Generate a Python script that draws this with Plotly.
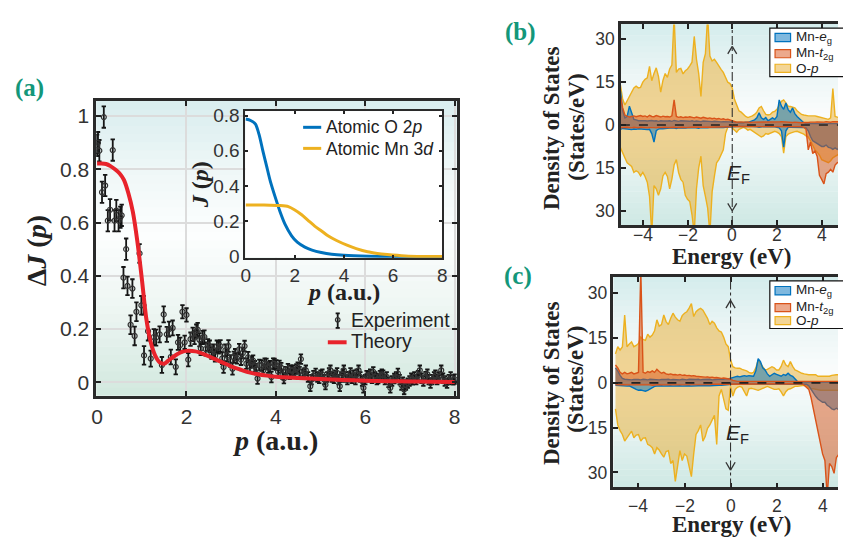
import plotly.graph_objects as go

# ---------------- Panel (a) data ----------------
exp_p = [0.00, 0.02, 0.05, 0.11, 0.15, 0.18, 0.24, 0.29, 0.35, 0.39, 0.43, 0.48, 0.52, 0.55, 0.59,
         0.65, 0.68, 0.75, 0.79, 0.84, 0.88, 0.95, 0.99, 1.04, 1.05, 1.14, 1.20, 1.27, 1.32, 1.40,
         1.45, 1.49, 1.56, 1.61, 1.65, 1.69, 1.76, 1.81, 1.86, 1.91, 1.96, 2.00, 2.04, 2.09, 2.14,
         2.18, 2.22, 2.25, 2.29, 2.32, 2.36, 2.40, 2.43,
         2.48, 2.52, 2.56, 2.60, 2.64, 2.68, 2.72, 2.76, 2.80, 2.83, 2.87, 2.91, 2.94, 2.98, 3.03,
         3.06, 3.09, 3.13, 3.18, 3.22, 3.26, 3.30, 3.34, 3.38, 3.42, 3.46, 3.49, 3.53, 3.56, 3.59,
         3.63, 3.68, 3.72, 3.75, 3.79, 3.83, 3.87, 3.90, 3.94, 3.97, 4.01, 4.05, 4.08, 4.12, 4.15,
         4.18, 4.22, 4.27, 4.31, 4.34, 4.38, 4.42, 4.46, 4.49, 4.53, 4.56, 4.60, 4.64, 4.67, 4.72,
         4.77, 4.80, 4.84, 4.89, 4.93, 4.97, 5.00, 5.04, 5.08, 5.11, 5.15, 5.19, 5.22, 5.26, 5.30,
         5.33, 5.37, 5.40, 5.43, 5.47, 5.50, 5.52, 5.56, 5.60, 5.63, 5.67, 5.70, 5.74, 5.78, 5.81,
         5.85, 5.89, 5.93, 5.96, 6.00, 6.03, 6.07, 6.11, 6.15, 6.18, 6.22, 6.26, 6.29, 6.33, 6.37,
         6.40, 6.44, 6.48, 6.52, 6.56, 6.60, 6.65, 6.69, 6.73, 6.77, 6.81, 6.84, 6.87, 6.91, 6.95,
         6.99, 7.03, 7.06, 7.10, 7.14, 7.18, 7.22, 7.26, 7.30, 7.35, 7.39, 7.42, 7.46, 7.50, 7.54,
         7.57, 7.61, 7.65, 7.70, 7.74, 7.78, 7.83, 7.87, 7.91, 7.97, 8.00]
exp_v = [0.890, 0.900, 0.870, 0.714, 0.996, 0.739, 0.607, 0.648, 0.872, 0.607, 0.645, 0.607, 0.620, 0.627, 0.393,
         0.500, 0.362, 0.216, 0.352, 0.174, 0.265, 0.484, 0.289, 0.289, 0.101, 0.192, 0.089, 0.170, 0.168, 0.180,
         0.065, 0.255, 0.180, 0.200, 0.095, 0.204, 0.058, 0.150, 0.140, 0.265, 0.150, 0.253, 0.085, 0.162, 0.180,
         0.168, 0.192, 0.198, 0.160, 0.127, 0.168, 0.170, 0.125,
         0.140, 0.135, 0.110, 0.120, 0.100, 0.135, 0.130, 0.136, 0.090, 0.057, 0.120, 0.100, 0.136, 0.080, 0.051,
         0.095, 0.105, 0.090, 0.124, 0.085, 0.110, 0.136, 0.070, 0.094, 0.060, 0.075, 0.081, 0.060, 0.050, 0.014,
         0.065, 0.063, 0.045, 0.070, 0.069, 0.055, 0.060, 0.020, 0.070, 0.069, 0.065, 0.040, 0.063, 0.055, 0.030,
         0.014, 0.040, 0.051, 0.030, 0.045, 0.045, 0.035, 0.050, 0.057, 0.040, 0.087, 0.030, 0.035, 0.045, 0.020,
         -0.015, 0.010, 0.025, 0.033, 0.020, 0.015, 0.027, 0.030, 0.010, -0.009, 0.020, 0.035, 0.045, 0.020, 0.015,
         0.027, 0.035, 0.010, -0.015, 0.020, 0.030, 0.045, 0.020, 0.010, 0.021, 0.035, 0.015, 0.027, 0.010, 0.030,
         0.045, 0.020, 0.005, -0.021, 0.010, 0.025, 0.021, 0.030, 0.015, 0.039, 0.020, 0.010, 0.014, 0.025, 0.030,
         0.027, 0.010, 0.020, 0.000, -0.021, 0.005, 0.014, 0.020, 0.033, 0.010, -0.010, 0.000, -0.027, -0.010, -0.003,
         0.005, 0.015, 0.009, 0.020, 0.010, 0.025, 0.045, 0.015, 0.005, 0.021, 0.030, 0.010, -0.003, 0.010, 0.020,
         0.027, 0.010, 0.020, 0.045, 0.015, 0.005, -0.003, 0.010, 0.020, 0.009, 0.012]
exp_err = [0.040, 0.040, 0.040, 0.040, 0.040, 0.040, 0.040, 0.040, 0.040, 0.040, 0.040, 0.040, 0.040, 0.040, 0.040,
           0.040, 0.035, 0.035, 0.035, 0.035, 0.035, 0.035, 0.035, 0.035, 0.035, 0.035, 0.030, 0.030, 0.030, 0.030,
           0.030, 0.030, 0.028, 0.028, 0.028, 0.028, 0.028, 0.028, 0.028, 0.025, 0.025, 0.025, 0.025, 0.025, 0.025,
           0.025, 0.025, 0.025, 0.025, 0.025, 0.025, 0.025, 0.025,
           0.022, 0.022, 0.022, 0.022, 0.022, 0.022, 0.022, 0.022, 0.022, 0.022, 0.022, 0.022, 0.022, 0.022, 0.022,
           0.020, 0.020, 0.020, 0.020, 0.020, 0.020, 0.020, 0.020, 0.020, 0.020, 0.020, 0.020, 0.020, 0.020, 0.020,
           0.020, 0.020, 0.020, 0.020, 0.020, 0.020, 0.020, 0.020, 0.020, 0.020, 0.018, 0.018, 0.018, 0.018, 0.018,
           0.018, 0.018, 0.018, 0.018, 0.018, 0.018, 0.018, 0.018, 0.018, 0.018, 0.018, 0.018, 0.018, 0.018, 0.018,
           0.018, 0.018, 0.018, 0.018, 0.018, 0.018, 0.018, 0.018, 0.018, 0.018, 0.018, 0.018, 0.018, 0.018, 0.018,
           0.018, 0.018, 0.018, 0.018, 0.018, 0.018, 0.018, 0.018, 0.018, 0.018, 0.018, 0.018, 0.018, 0.018, 0.018,
           0.018, 0.018, 0.018, 0.018, 0.018, 0.018, 0.018, 0.018, 0.018, 0.018, 0.018, 0.018, 0.018, 0.018, 0.018,
           0.018, 0.018, 0.018, 0.018, 0.018, 0.018, 0.018, 0.018, 0.018, 0.018, 0.018, 0.018, 0.018, 0.018, 0.018,
           0.018, 0.018, 0.018, 0.018, 0.018, 0.018, 0.018, 0.018, 0.018, 0.018, 0.018, 0.018, 0.018, 0.018, 0.018,
           0.018, 0.018, 0.018, 0.018, 0.018, 0.018, 0.018, 0.018, 0.018, 0.018, 0.018]

theory_p = [0, 0.1, 0.2, 0.3, 0.4, 0.5, 0.6, 0.7, 0.8, 0.9, 1.0, 1.1, 1.2, 1.3, 1.4, 1.5, 1.6, 1.7, 1.8,
            1.9, 2.0, 2.2, 2.4, 2.6, 2.8, 3.0, 3.2, 3.4, 3.6, 3.8, 4.0, 4.5, 5.0, 5.5, 6.0, 6.5, 7.0, 7.5, 8.0]
theory_v = [0.822, 0.822, 0.820, 0.812, 0.800, 0.785, 0.760, 0.710, 0.640, 0.530, 0.390, 0.240, 0.150,
            0.100, 0.075, 0.070, 0.082, 0.095, 0.106, 0.114, 0.118, 0.116, 0.105, 0.090, 0.075, 0.060,
            0.048, 0.037, 0.030, 0.025, 0.021, 0.016, 0.012, 0.009, 0.006, 0.004, 0.003, 0.002, 0.001]

o2p_p = [0, 0.2, 0.4, 0.55, 0.7, 0.85, 1.0, 1.2, 1.4, 1.6, 1.87, 2.1, 2.41, 2.7, 3.08, 3.5, 4.0, 5.0, 6.0, 7.0, 8.0]
o2p_j = [0.780, 0.772, 0.751, 0.690, 0.600, 0.515, 0.430, 0.339, 0.255, 0.185, 0.119, 0.083, 0.055, 0.038,
         0.024, 0.014, 0.008, 0.003, 0.001, 0.0005, 0.0]
mn3d_p = [0, 0.5, 1.0, 1.4, 1.74, 2.0, 2.28, 2.55, 2.81, 3.1, 3.35, 3.7, 4.15, 4.5, 4.96, 5.36, 5.76, 6.5, 7.2, 8.0]
mn3d_j = [0.293, 0.293, 0.292, 0.290, 0.284, 0.265, 0.238, 0.205, 0.174, 0.145, 0.119, 0.092, 0.064, 0.046,
          0.028, 0.019, 0.013, 0.005, 0.002, 0.001]

# ---------------- Panels (b), (c) DOS data ----------------
energy = [-5.0, -4.9, -4.8, -4.7, -4.6, -4.5, -4.4, -4.3, -4.2, -4.1,
          -4.0, -3.9, -3.8, -3.7, -3.6, -3.5, -3.4, -3.3, -3.2, -3.1,
          -3.0, -2.9, -2.8, -2.7, -2.6, -2.5, -2.4, -2.3, -2.2, -2.1,
          -2.0, -1.9, -1.8, -1.7, -1.6, -1.5, -1.4, -1.3, -1.2, -1.1,
          -1.0, -0.9, -0.8, -0.7, -0.6, -0.5, -0.4, -0.3, -0.2, -0.1,
          0.0, 0.1, 0.2, 0.3, 0.4, 0.5, 0.6, 0.7, 0.8, 0.9,
          1.0, 1.1, 1.2, 1.3, 1.4, 1.5, 1.6, 1.7, 1.8, 1.9,
          2.0, 2.1, 2.2, 2.3, 2.4, 2.5, 2.6, 2.7, 2.8, 2.9,
          3.0, 3.1, 3.2, 3.3, 3.4, 3.5, 3.6, 3.7, 3.8, 3.9,
          4.0, 4.1, 4.2, 4.3, 4.4, 4.5, 4.6, 4.7, 4.8]

# panel (b)
b_op_up = [14, 9, 7, 8.5, 10, 11.5, 13, 13.6, 13, 13.2,
           15, 16, 16.5, 20.5, 15.5, 18, 20, 17, 11.5, 15.6,
           18, 16.7, 19.6, 21, 38, 18.4, 19.6, 19.8, 17.9, 19,
           19.6, 20.7, 22, 31, 23, 18, 10, 21.9, 25, 38,
           24.1, 22.4, 23, 21.9, 20.5, 19.5, 18.4, 16.5, 15, 14.5,
           13, 9, 7, 5, 4.5, 3.7, 3, 2.6, 2.8, 3.2,
           3.7, 4.5, 6, 6.5, 5, 3.7, 3.5, 3.7, 4.5, 4.8,
           5.5, 7, 8.3, 8.8, 7.5, 6.6, 6.5, 6.2, 6, 5,
           4.2, 3.7, 3.5, 3.3, 3.2, 3.2, 3.3, 3.2, 3, 2.8,
           2.6, 2.4, 2.2, 2, 2.5, 12.8, 3, 2.6, 2.5]
b_op_dn = [-8, -10, -11.5, -13.2, -14, -14.5, -16.6, -16, -16.5, -17.8,
           -16.6, -18, -20, -25, -38, -21.2, -22.3, -24.6, -22.3, -17.8,
           -16.6, -18, -22.3, -18.9, -14, -12.1, -16.6, -19, -20, -24.6,
           -26, -26.8, -31.4, -38, -22.3, -15, -10.9, -21.2, -25, -29.1,
           -38, -23.4, -18, -13.2, -12.1, -10.5, -8.7, -3, -0.8, -0.3,
           -1, -1.9, -2.5, -1.5, -1, -0.8, -1.2, -1.8, -1.5, -2,
           -2.5, -3, -3.5, -4.2, -3.8, -3, -3.2, -2.8, -2.5, -2.2,
           -2.5, -3, -4, -9.8, -4, -3.2, -2.8, -2.5, -2.3, -2.2,
           -2.5, -2.8, -3.2, -3.8, -4.2, -5.5, -7, -8.7, -9.5, -10.5,
           -12.1, -12.5, -13, -13.2, -12.5, -11.5, -11, -10.5, -10]
b_eg_up = [12, 5, 2.5, 3, 6.6, 4, 2, 1.8, 1.5, 1.5,
           1.6, 1.5, 1.4, 1.5, 1.6, 1.4, 1.5, 1.3, 1.5, 1.4,
           1.3, 1.4, 1.5, 1.3, 1.6, 1.4, 1.3, 1.5, 1.4, 1.3,
           1.4, 1.3, 1.5, 1.3, 1.4, 1.3, 1.2, 1.4, 1.3, 1.2,
           1.3, 1.2, 1.3, 1.2, 1.3, 1.1, 1.2, 1.1, 1.2, 1.1,
           1.2, 1.0, 0.9, 0.8, 0.9, 0.8, 1.0, 0.9, 1.2, 1.5,
           1.8, 2.5, 4.3, 2.5, 2.0, 2.6, 1.5, 2.0, 2.5, 2.0,
           3.0, 8.8, 6.6, 5.5, 7.7, 5.4, 4.5, 6.0, 4.0, 3.0,
           2.2, 1.5, 0.8, 0.5, 0.5, 0.5, 0.5, 0.5, 0.5, 0.5,
           0.5, 0.5, 0.5, 0.5, 0.5, 0.5, 0.5, 0.5, 0.5]
b_eg_dn = [-1.5, -1.2, -1.3, -1.4, -1.5, -1.6, -1.4, -1.5, -1.3, -1.4,
           -1.5, -1.4, -1.6, -1.5, -3, -6, -2, -1.4, -1.2, -1.3,
           -1.2, -1.1, -1.2, -1.0, -1.1, -1.2, -1.0, -1.1, -1.0, -1.1,
           -1.0, -1.1, -1.0, -0.9, -1.0, -1.1, -0.9, -1.0, -0.9, -1.0,
           -0.9, -1.0, -0.9, -0.8, -0.9, -0.8, -0.9, -0.8, -0.7, -0.8,
           -0.6, -0.5, -0.5, -0.5, -0.4, -0.5, -0.5, -0.4, -0.5, -0.5,
           -0.5, -0.6, -0.8, -0.6, -0.5, -0.6, -0.5, -0.6, -0.5, -0.6,
           -0.8, -1, -2, -7.7, -2, -0.8, -0.8, -0.8, -0.7, -0.8,
           -0.8, -0.8, -0.9, -1.0, -2, -4, -5.5, -6, -6.5, -7,
           -7.5, -7.5, -7, -7.8, -8, -8.5, -8, -8.5, -8]
b_t2g_up = [10, 6, 3.5, 3, 2.8, 3, 3.2, 2.9, 3.1, 3.3,
            3.0, 3.2, 2.8, 3.4, 3.0, 2.9, 3.3, 3.0, 2.8, 3.1,
            2.9, 3.0, 2.8, 3.2, 8.8, 3.0, 2.7, 2.9, 2.6, 2.8,
            2.7, 2.9, 2.6, 2.5, 2.8, 2.6, 2.4, 2.7, 2.5, 2.3,
            2.5, 2.2, 2.4, 2.1, 2.3, 2.0, 2.2, 1.9, 2.0, 1.8,
            1.5, 1.2, 1.0, 1.1, 1.0, 0.9, 1.0, 1.1, 0.9, 1.0,
            1.0, 1.1, 1.0, 0.9, 1.0, 1.1, 1.0, 0.9, 1.0, 1.1,
            1.0, 1.1, 1.2, 1.1, 1.0, 1.1, 1.0, 0.9, 1.0, 0.9,
            0.9, 0.8, 0.9, 0.8, 0.9, 1.0, 0.9, 1.0, 1.1, 1.0,
            1.1, 1.0, 1.2, 1.1, 1.0, 1.2, 1.1, 1.0, 1.1]
b_t2g_dn = [-1.0, -0.9, -1.0, -0.8, -0.9, -1.0, -0.8, -0.9, -1.0, -0.8,
            -0.9, -0.8, -1.0, -0.9, -0.8, -0.9, -1.0, -0.8, -0.9, -0.8,
            -0.8, -0.9, -0.8, -0.9, -0.8, -0.9, -0.8, -0.9, -0.8, -0.9,
            -0.8, -0.9, -0.8, -0.8, -0.9, -0.8, -0.8, -0.9, -0.8, -0.8,
            -0.8, -0.7, -0.8, -0.7, -0.8, -0.7, -0.7, -0.6, -0.6, -0.6,
            -0.5, -0.5, -0.5, -0.5, -0.5, -0.5, -0.5, -0.5, -0.5, -0.5,
            -0.5, -0.5, -0.5, -0.5, -0.5, -0.5, -0.5, -0.5, -0.5, -0.5,
            -0.5, -0.5, -0.5, -0.5, -0.5, -0.5, -0.5, -0.5, -0.5, -0.5,
            -0.5, -0.6, -0.8, -1.5, -8.7, -6, -10, -9, -11, -17.6,
            -19, -20.6, -17, -16.5, -15.5, -16.5, -14, -13.2, -13]

# panel (c)
c_op_up = [9.7, 12.1, 11, 12, 22.7, 12.1, 13, 13.7, 12.1, 12.5,
           13.2, 15.3, 14.5, 14.2, 16.3, 15.3, 16, 17.4, 21.1, 19,
           19.5, 22.7, 20.5, 19.5, 21.6, 23.3, 22, 21.1, 20.6, 22.5,
           23.3, 23.8, 25, 26.5, 22.2, 23.8, 24.5, 24.9, 24.3, 23,
           21.6, 19.5, 20.6, 20, 18.4, 17.4, 17, 15.3, 13, 12.1,
           7.8, 5.4, 5, 4.9, 4.9, 4.5, 4.3, 4, 3.5, 3.2,
           3.5, 5, 7.6, 6.5, 5, 4.3, 4.5, 5, 5.4, 5,
           4.3, 4.3, 5.5, 7.6, 6, 5.4, 7.1, 5.5, 4.3, 4,
           3.5, 3.2, 3, 2.8, 2.7, 2.7, 2.7, 2.7, 2.2, 2.2,
           2.2, 2.2, 2.2, 2.2, 2.5, 2.7, 2.7, 2.7, 3.5]
c_op_dn = [-8.7, -14.1, -16, -17.3, -19.5, -18.4, -17, -16.2, -18.4, -17.5,
           -17.3, -19.5, -18.5, -18.4, -20.6, -21, -21.7, -23.8, -21.7, -22.5,
           -23.8, -24.9, -23, -22.7, -27, -26, -33, -27, -22.7, -26,
           -23.8, -24.5, -28.1, -31.4, -23.8, -17.3, -16, -14.1, -19.5, -18,
           -15.2, -14.1, -12.5, -10.9, -20.6, -4.4, -2.2, -5, -8.7, -9.2,
           -1.2, -4.4, -2.2, -1.5, -1.2, -1.5, -3, -4.4, -2, -1.8,
           -2, -2.2, -2.5, -2.2, -1.8, -1.5, -1.2, -1.5, -1.8, -2.2,
           -2.2, -2, -3, -4.4, -3, -2.2, -2, -1.5, -1.2, -1.2,
           -1, -0.8, -0.8, -1, -1.5, -2, -2, -2.2, -2.5, -2.5,
           -2.5, -2.5, -2.5, -2.5, -2.5, -2.5, -2.5, -2.5, -2.5]
c_eg_up = [5, 4, 2.5, 1.5, 1.2, 1.1, 1.2, 1.0, 1.1, 1.2,
           1.1, 1.0, 1.2, 1.1, 1.0, 1.2, 1.1, 1.0, 1.1, 1.0,
           1.1, 1.0, 1.1, 1.2, 1.0, 1.1, 1.0, 1.1, 1.0, 1.2,
           1.1, 1.0, 1.2, 1.1, 1.0, 1.1, 1.2, 1.0, 1.1, 1.2,
           1.1, 1.2, 1.0, 1.1, 1.2, 1.1, 1.3, 1.2, 1.4, 1.3,
           1.6, 1.8, 2.0, 2.2, 2.0, 2.2, 2.4, 2.2, 2.4, 2.3,
           2.2, 4.0, 8.1, 7.1, 5.0, 4.3, 3.0, 2.2, 2.6, 3.2,
           2.8, 2.5, 2.2, 2.8, 2.5, 3.2, 2.5, 2.2, 1.5, 0.5,
           0.3, 0.3, 0.3, 0.3, 0.3, 0.3, 0.3, 0.3, 0.3, 0.3,
           0.3, 0.3, 0.3, 0.3, 0.3, 0.3, 0.3, 0.3, 0.3]
c_eg_dn = [-0.8, -0.9, -1.0, -0.9, -1.0, -1.1, -1.0, -1.5, -2.0, -2.2,
           -2.5, -2.4, -2.6, -2.8, -2.5, -2.0, -1.5, -1.2, -1.1, -1.0,
           -1.0, -1.1, -1.0, -0.9, -1.0, -1.1, -1.0, -0.9, -1.0, -1.1,
           -1.0, -0.9, -1.0, -1.1, -1.0, -0.9, -1.0, -1.0, -0.9, -1.0,
           -0.9, -1.0, -0.9, -0.8, -0.9, -0.8, -0.8, -0.7, -0.7, -0.6,
           -0.4, -0.3, -0.3, -0.3, -0.3, -0.3, -0.3, -0.3, -0.3, -0.3,
           -0.3, -0.3, -0.3, -0.3, -0.3, -0.3, -0.3, -0.3, -0.3, -0.3,
           -0.3, -0.3, -0.3, -0.3, -0.3, -0.3, -0.3, -0.3, -0.3, -0.3,
           -0.3, -0.3, -0.3, -0.5, -1.0, -2.2, -3.5, -4.5, -5.4, -6.0,
           -6.5, -6.5, -7.5, -8.0, -8.7, -9.0, -8.5, -9.0, -9.0]
c_t2g_up = [6, 5, 3.5, 3, 3.5, 3, 3.2, 3.5, 3, 3.3,
            3.5, 38, 3.5, 3.2, 3.8, 3.5, 4, 3.5, 4.5, 3.8,
            3.2, 3.5, 3.0, 2.8, 3.0, 2.7, 2.8, 2.6, 2.8, 2.5,
            2.6, 2.4, 2.5, 2.3, 2.4, 2.2, 2.1, 2.0, 2.1, 1.9,
            2.0, 1.8, 1.9, 1.7, 1.8, 1.6, 1.5, 1.6, 1.5, 1.4,
            1.2, 0.8, 0.6, 0.5, 0.5, 0.5, 0.5, 0.5, 0.5, 0.5,
            0.5, 0.5, 0.5, 0.5, 0.5, 0.5, 0.5, 0.5, 0.5, 0.5,
            0.5, 0.5, 0.5, 0.5, 0.5, 0.5, 0.5, 0.5, 0.5, 0.5,
            0.5, 0.5, 0.5, 0.5, 0.5, 0.5, 0.5, 0.5, 0.5, 0.5,
            0.5, 0.5, 0.5, 0.5, 0.5, 0.5, 0.5, 0.5, 0.5]
c_t2g_dn = [-0.7, -0.8, -0.7, -0.6, -0.7, -0.8, -0.7, -0.7, -0.6, -0.7,
            -0.7, -0.8, -0.7, -0.7, -0.6, -0.7, -0.8, -0.7, -0.7, -0.6,
            -0.7, -0.7, -0.6, -0.7, -0.8, -0.7, -0.7, -0.6, -0.7, -0.7,
            -0.6, -0.7, -0.7, -0.6, -0.7, -0.7, -0.6, -0.6, -0.7, -0.6,
            -0.6, -0.6, -0.5, -0.6, -0.5, -0.5, -0.5, -0.4, -0.4, -0.4,
            -0.3, -0.3, -0.3, -0.3, -0.3, -0.3, -0.3, -0.3, -0.3, -0.3,
            -0.3, -0.3, -0.3, -0.3, -0.3, -0.3, -0.3, -0.3, -0.3, -0.3,
            -0.3, -0.3, -0.3, -0.3, -0.3, -0.3, -0.3, -0.3, -0.3, -0.3,
            -0.3, -0.3, -0.8, -1.5, -2.2, -5, -8.7, -12, -15.2, -19.5,
            -23.8, -26, -38, -27, -28, -30.3, -25, -24, -23]

dos_xticks = [-4, -2, 0, 2, 4]
dos_xticktext = ["\u22124", "\u22122", "0", "2", "4"]
dos_ticks = [-30, -15, 0, 15, 30]
dos_ticktext = ["30", "15", "0", "15", "30"]
species = ["Mn-<i>e</i><sub>g</sub>", "Mn-<i>t</i><sub>2g</sub>", "O-<i>p</i>"]

# ---------------- styling helpers ----------------
W, H = 843, 543
def px(x): return x / W
def py(y): return 1 - y / H

BLUE = (0, 114, 189)
RED = (217, 83, 25)
YEL = (237, 177, 32)
def rgb(c): return "rgb(%d,%d,%d)" % c

SANS = "Liberation Sans, Arial, Helvetica, sans-serif"
SERIF = "Liberation Serif, Times New Roman, serif"
TEAL = "#13977a"
TXT = "#333333"

fig = go.Figure()

# main (a)
fig.add_trace(go.Scatter(x=exp_p, y=exp_v, mode="markers", xaxis="x", yaxis="y",
                         marker=dict(symbol="circle-open", size=5, color="#333", line=dict(width=1.2)),
                         error_y=dict(type="data", array=exp_err, visible=True, thickness=1.8, width=2.2, color="#151515")))
fig.add_trace(go.Scatter(x=theory_p, y=theory_v, mode="lines", xaxis="x", yaxis="y",
                         line=dict(color="#e8232b", width=4, shape="spline", smoothing=0.7)))
# inset
fig.add_trace(go.Scatter(x=o2p_p, y=o2p_j, mode="lines", xaxis="x2", yaxis="y2",
                         line=dict(color=rgb(BLUE), width=3, shape="spline", smoothing=0.7)))
fig.add_trace(go.Scatter(x=mn3d_p, y=mn3d_j, mode="lines", xaxis="x2", yaxis="y2",
                         line=dict(color=rgb(YEL), width=3, shape="spline", smoothing=0.7)))

FILL = {YEL: "rgba(232,172,45,0.50)", BLUE: "rgba(0,114,189,0.50)", RED: "rgba(217,83,25,0.50)"}

def dos_traces(xa, ya, op_up, op_dn, eg_up, eg_dn, t_up, t_dn):
    for vals, col in [(op_up, YEL), (op_dn, YEL), (eg_up, BLUE), (eg_dn, BLUE), (t_up, RED), (t_dn, RED)]:
        fig.add_trace(go.Scatter(x=energy, y=vals, mode="lines", xaxis=xa, yaxis=ya, fill="tozeroy",
                                 fillcolor=FILL[col], line=dict(color=rgb(col), width=1.4)))

dos_traces("x3", "y3", b_op_up, b_op_dn, b_eg_up, b_eg_dn, b_t2g_up, b_t2g_dn)
dos_traces("x4", "y4", c_op_up, c_op_dn, c_eg_up, c_eg_dn, c_t2g_up, c_t2g_dn)

def axis(dom, rng, tickvals, ticktext, font_size, anchor, grid=False, mirror="ticks", ticklen=5, lw=2.5,
         labels=True):
    return dict(domain=dom, range=rng, tickvals=tickvals, ticktext=ticktext, ticks="inside", ticklen=ticklen,
                tickwidth=2, tickcolor="#222", showline=True, linewidth=lw, linecolor="#2a2a2a", mirror=mirror,
                showgrid=grid, gridcolor="#dcdcdc", gridwidth=1.5, zeroline=False, anchor=anchor,
                showticklabels=labels, tickfont=dict(family=SANS, size=font_size, color=TXT))

fig.update_layout(
    width=W, height=H, margin=dict(l=0, r=0, t=0, b=0), paper_bgcolor="white", plot_bgcolor="white",
    showlegend=False,
    xaxis=axis([px(92.3), px(457.3)], [-0.02, 8.05], [0, 2, 4, 6, 8], ["0", "2", "4", "6", "8"], 21, "y", grid=True),
    yaxis=axis([py(401.7), py(98.3)], [-0.051, 1.055], [0, 0.2, 0.4, 0.6, 0.8, 1.0],
               ["0", "0.2", "0.4", "0.6", "0.8", "1"], 21, "x", grid=True),
    xaxis2=axis([px(243.3), px(442.7)], [-0.01, 8.01], [0, 2, 4, 6, 8], ["0", "2", "4", "6", "8"], 19, "y2",
                ticklen=3, lw=2),
    yaxis2=axis([py(259.3), py(108.3)], [-0.005, 0.825], [0, 0.2, 0.4, 0.6, 0.8],
                ["0", "0.2", "0.4", "0.6", "0.8"], 19, "x2", ticklen=3, lw=2),
    xaxis3=axis([px(623.3), 1.0], [-4.98, 4.73], dos_xticks, dos_xticktext, 17.5, "y3", labels=False),
    yaxis3=axis([py(225.7), py(19)], [-35, 35.2], dos_ticks, dos_ticktext, 17.5, "x3", mirror=False),
    xaxis4=axis([px(615.7), 1.0], [-5.09, 4.67], dos_xticks, dos_xticktext, 17.5, "y4", labels=False),
    yaxis4=axis([py(496), py(279)], [-35, 35.5], dos_ticks, dos_ticktext, 17.5, "x4", mirror=False),
)

shapes = []

def lerp_stops(stops, f):
    for i in range(len(stops) - 1):
        f0, c0 = stops[i]
        f1, c1 = stops[i + 1]
        if f0 <= f <= f1:
            t = (f - f0) / (f1 - f0)
            return tuple(int(round(c0[k] + (c1[k] - c0[k]) * t)) for k in range(3))
    return stops[-1][1]

def gradient(xref, yref, stops, n=36):
    for k in range(n):
        f0, f1 = k / n, (k + 1) / n
        c = lerp_stops(stops, (f0 + f1) / 2)
        shapes.append(dict(type="rect", xref=xref, yref=yref, x0=0, x1=1, y0=f0, y1=f1 + 0.002,
                           fillcolor=rgb(c), line=dict(width=0), layer="below"))

main_stops = [(0, (210, 232, 222)), (0.3, (238, 246, 243)), (0.55, (252, 254, 254)), (0.75, (240, 248, 248)), (1.0, (217, 237, 238))]
inset_stops = [(0, (214, 234, 225)), (0.4, (246, 250, 249)), (0.65, (254, 254, 254)), (1.0, (224, 241, 241))]
dos_stops = [(0, (206, 232, 228)), (0.35, (236, 246, 245)), (0.55, (250, 252, 252)), (0.75, (236, 246, 246)), (1.0, (212, 236, 236))]
gradient("x domain", "y domain", main_stops)
gradient("x2 domain", "y2 domain", inset_stops)
gradient("x3 domain", "y3 domain", dos_stops)
gradient("x4 domain", "y4 domain", dos_stops)

# DOS reference lines (Fermi level, zero line, spin arrows)
for xa, ya, top_head, bot_head in [("x3", "y3", 27.5, -30.0), ("x4", "y4", 27.6, -29.2)]:
    shapes.append(dict(type="line", xref=xa, yref=ya + " domain", x0=0, x1=0, y0=0, y1=1,
                       line=dict(color="#333", width=1.1, dash="dashdot"), layer="above"))
    shapes.append(dict(type="line", xref=xa + " domain", yref=ya, x0=0, x1=1, y0=0, y1=0,
                       line=dict(color="#222", width=1.6, dash="dash"), layer="above"))
    for head, sgn in [(top_head, 1), (bot_head, -1)]:
        for dx in (-0.2, 0.2):
            shapes.append(dict(type="line", xref=xa, yref=ya, x0=0, y0=head, x1=dx, y1=head - sgn * 2.6,
                               line=dict(color="#333", width=1.3), layer="above"))

# main legend icons
shapes.append(dict(type="line", xref="paper", yref="paper", x0=px(336.7), x1=px(336.7), y0=py(316.7), y1=py(331.7),
                   line=dict(color="#151515", width=1.8)))
for yy in (316.7, 331.7):
    shapes.append(dict(type="line", xref="paper", yref="paper", x0=px(334.6), x1=px(338.8), y0=py(yy), y1=py(yy),
                       line=dict(color="#151515", width=1.8)))
shapes.append(dict(type="circle", xref="paper", yref="paper", x0=px(334.4), x1=px(339.0), y0=py(325.6), y1=py(321.0),
                   line=dict(color="#333", width=1.2), fillcolor="rgba(0,0,0,0)"))
shapes.append(dict(type="line", xref="paper", yref="paper", x0=px(326.7), x1=px(345.7), y0=py(346.5), y1=py(346.5),
                   line=dict(color="#e8232b", width=4)))
# inset legend lines
shapes.append(dict(type="line", xref="paper", yref="paper", x0=px(301.7), x1=px(320), y0=py(125), y1=py(125),
                   line=dict(color=rgb(BLUE), width=3)))
shapes.append(dict(type="line", xref="paper", yref="paper", x0=px(301.7), x1=px(320), y0=py(146.7), y1=py(146.7),
                   line=dict(color=rgb(YEL), width=3)))

annotations = []
def text(x, y, s, size, family=SANS, color=TXT, xanchor="center", yanchor="middle", angle=0):
    annotations.append(dict(x=px(x), y=py(y), xref="paper", yref="paper", text=s, showarrow=False,
                            font=dict(family=family, size=size, color=color), xanchor=xanchor, yanchor=yanchor,
                            textangle=angle))

# DOS x tick labels, placed through each panel's own x axis
for xa, ylab in [("x3", 236.0), ("x4", 515.5)]:
    for v, t in zip(dos_xticks, dos_xticktext):
        annotations.append(dict(x=v, y=py(ylab), xref=xa, yref="paper", text=t, showarrow=False,
                                font=dict(family=SANS, size=17.5, color=TXT), xanchor="center", yanchor="middle"))

# DOS legends
for top, bot, rows in [(22.7, 72.7, [(28.3, 36.7, 32.5), (45.0, 53.3, 49.2), (60.0, 68.3, 64.2)]),
                       (283.3, 332.3, [(289.0, 297.7, 293.3), (306.7, 315.0, 310.8), (320.0, 328.3, 324.2)])]:
    shapes.append(dict(type="rect", xref="paper", yref="paper", x0=px(774), x1=1.05, y0=py(bot), y1=py(top),
                       fillcolor="white", line=dict(color="#111", width=1.2), layer="above"))
    for (y0, y1, yc), col, lab in zip(rows, [BLUE, RED, YEL], species):
        shapes.append(dict(type="rect", xref="paper", yref="paper", x0=px(779.3), x1=px(795), y0=py(y1), y1=py(y0),
                           fillcolor=FILL[col], line=dict(color=rgb(col), width=1.2), layer="above"))
        text(798, yc, lab, 13.5, color="#222", xanchor="left")

# main texts
text(24.5, 84, "<b>(a)</b>", 25, family=SERIF, color=TEAL)
text(521.3, 27, "<b>(b)</b>", 25, family=SERIF, color=TEAL)
text(519.5, 278, "<b>(c)</b>", 25, family=SERIF, color=TEAL)
text(274, 448, "<b><i>p</i> (a.u.)</b>", 28, family=SERIF, color="#222")
text(32, 252, "<b>\u0394<i>J</i> (<i>p</i>)</b>", 28, family=SERIF, color="#222", angle=-90)
text(342.5, 294.5, "<b><i>p</i> (a.u.)</b>", 24, family=SERIF, color="#222")
text(197, 184, "<b><i>J</i> (<i>p</i>)</b>", 24, family=SERIF, color="#222", angle=-90)
text(348.3, 323.3, "Experiment", 19.5, color="#222", xanchor="left")
text(348.3, 345.5, "Theory", 19.5, color="#222", xanchor="left")
text(323.3, 125, "Atomic O 2<i>p</i>", 17.5, color="#222", xanchor="left")
text(323.3, 147, "Atomic Mn 3<i>d</i>", 17.5, color="#222", xanchor="left")
for cx, cy1, cy2, ex, ey in [(553.3, 126, 125, 735, 258), (553, 388, 385, 735, 534)]:
    text(cx, cy1, "<b>Density of States</b>", 23, family=SERIF, color="#222", angle=-90)
    text(cx + 25, cy2, "<b>(States/eV)</b>", 23, family=SERIF, color="#222", angle=-90)
    text(ex, ey, "<b>Energy (eV)</b>", 23, family=SERIF, color="#222")
text(729, 173, "<i>E</i><sub>F</sub>", 21, color="#222", xanchor="left")
text(728, 441, "<i>E</i><sub>F</sub>", 21, color="#222", xanchor="left")

fig.update_layout(shapes=shapes, annotations=annotations)
# remove the browser's default 8 px page margin so the 843x543 figure fills the window exactly
fig.write_html("out.html", config={"displayModeBar": False},
               post_script="document.body.style.margin='0';document.body.style.overflow='hidden';")
